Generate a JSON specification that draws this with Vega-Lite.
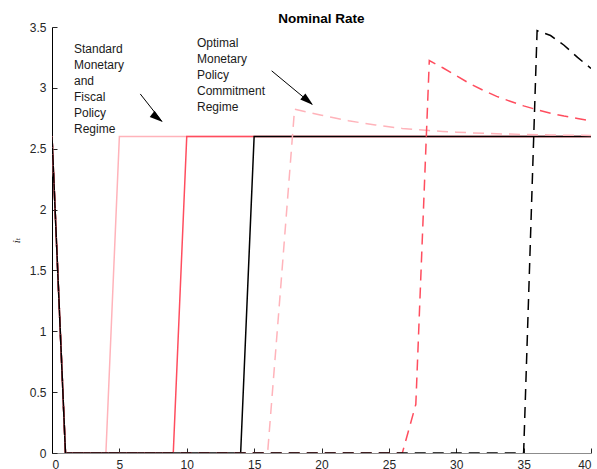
{
  "$schema": "https://vega.github.io/schema/vega-lite/v6.json",
  "width": 539,
  "height": 426,
  "autosize": {"type": "none"},
  "padding": {"left": 52, "top": 27, "right": 6, "bottom": 16},
  "background": "white",
  "title": {"text": "Nominal Rate", "font": "Liberation Sans", "fontSize": 13.5, "fontWeight": "bold", "color": "#000000", "anchor": "middle", "offset": -4},
  "config": {
    "view": {"stroke": null},
    "axis": {
      "labelFont": "Liberation Sans",
      "labelFontSize": 12,
      "labelColor": "#262626",
      "grid": false,
      "tickColor": "#262626",
      "tickSize": -5,
      "tickWidth": 1,
      "domainWidth": 1,
      "labelPadding": 11
    }
  },
  "datasets": {
    "series": [
      {"t": 0, "v": 2.6, "s": "S5"}, {"t": 1, "v": 0, "s": "S5"}, {"t": 2, "v": 0, "s": "S5"}, {"t": 3, "v": 0, "s": "S5"}, {"t": 4, "v": 0, "s": "S5"}, {"t": 5, "v": 2.6, "s": "S5"}, {"t": 40, "v": 2.6, "s": "S5"},
      {"t": 0, "v": 2.6, "s": "S10"}, {"t": 1, "v": 0, "s": "S10"}, {"t": 9, "v": 0, "s": "S10"}, {"t": 10, "v": 2.6, "s": "S10"}, {"t": 40, "v": 2.6, "s": "S10"},
      {"t": 0, "v": 2.6, "s": "S15"}, {"t": 1, "v": 0, "s": "S15"}, {"t": 14, "v": 0, "s": "S15"}, {"t": 15, "v": 2.6, "s": "S15"}, {"t": 40, "v": 2.6, "s": "S15"},
      {"t": 0, "v": 2.6, "s": "O16"}, {"t": 1, "v": 0, "s": "O16"}, {"t": 16, "v": 0, "s": "O16"}, {"t": 17, "v": 1.4, "s": "O16"}, {"t": 18, "v": 2.824, "s": "O16"}, {"t": 19, "v": 2.8, "s": "O16"}, {"t": 20, "v": 2.775, "s": "O16"}, {"t": 21, "v": 2.752, "s": "O16"}, {"t": 22, "v": 2.73, "s": "O16"}, {"t": 23, "v": 2.712, "s": "O16"}, {"t": 24, "v": 2.695, "s": "O16"}, {"t": 25, "v": 2.68, "s": "O16"}, {"t": 26, "v": 2.667, "s": "O16"}, {"t": 27, "v": 2.657, "s": "O16"}, {"t": 28, "v": 2.649, "s": "O16"}, {"t": 29, "v": 2.642, "s": "O16"}, {"t": 30, "v": 2.636, "s": "O16"}, {"t": 31, "v": 2.631, "s": "O16"}, {"t": 32, "v": 2.627, "s": "O16"}, {"t": 33, "v": 2.623, "s": "O16"}, {"t": 34, "v": 2.62, "s": "O16"}, {"t": 35, "v": 2.617, "s": "O16"}, {"t": 36, "v": 2.615, "s": "O16"}, {"t": 37, "v": 2.613, "s": "O16"}, {"t": 38, "v": 2.611, "s": "O16"}, {"t": 39, "v": 2.61, "s": "O16"}, {"t": 40, "v": 2.609, "s": "O16"},
      {"t": 0, "v": 2.6, "s": "O26"}, {"t": 1, "v": 0, "s": "O26"}, {"t": 26, "v": 0, "s": "O26"}, {"t": 27, "v": 0.4, "s": "O26"}, {"t": 28, "v": 3.224, "s": "O26"}, {"t": 29, "v": 3.165, "s": "O26"}, {"t": 30, "v": 3.1, "s": "O26"}, {"t": 31, "v": 3.035, "s": "O26"}, {"t": 32, "v": 2.98, "s": "O26"}, {"t": 33, "v": 2.93, "s": "O26"}, {"t": 34, "v": 2.89, "s": "O26"}, {"t": 35, "v": 2.852, "s": "O26"}, {"t": 36, "v": 2.82, "s": "O26"}, {"t": 37, "v": 2.792, "s": "O26"}, {"t": 38, "v": 2.768, "s": "O26"}, {"t": 39, "v": 2.748, "s": "O26"}, {"t": 40, "v": 2.73, "s": "O26"},
      {"t": 0, "v": 2.6, "s": "O35"}, {"t": 1, "v": 0, "s": "O35"}, {"t": 35, "v": 0, "s": "O35"}, {"t": 36, "v": 3.47, "s": "O35"}, {"t": 37, "v": 3.43, "s": "O35"}, {"t": 38, "v": 3.35, "s": "O35"}, {"t": 39, "v": 3.25, "s": "O35"}, {"t": 40, "v": 3.16, "s": "O35"}
    ],
    "notes": [
      {"x": 1.63, "y": 3.284, "label": "Standard\nMonetary\nand\nFiscal\nPolicy\nRegime"},
      {"x": 10.76, "y": 3.338, "label": "Optimal\nMonetary\nPolicy\nCommitment\nRegime"}
    ],
    "shafts": [
      {"x": 6.55, "y": 2.95, "x2": 8.15, "y2": 2.725},
      {"x": 16.3, "y": 3.14, "x2": 19.3, "y2": 2.865}
    ]
  },
  "layer": [
    {
      "data": {"name": "series"},
      "mark": {"type": "line", "strokeWidth": 1.5, "clip": true},
      "encoding": {
        "x": {"field": "t", "type": "quantitative", "scale": {"domain": [0, 40], "nice": false}, "axis": {"title": null, "values": [0, 5, 10, 15, 20, 25, 30, 35, 40], "domainColor": "#8c8c8c", "labelPadding": 11}},
        "y": {"field": "v", "type": "quantitative", "scale": {"domain": [0, 3.5], "nice": false}, "axis": {"title": "iₜ", "titleFont": "DejaVu Serif", "titleFontStyle": "italic", "titleFontWeight": "normal", "titleFontSize": 10, "titleColor": "#262626", "titlePadding": 8, "values": [0, 0.5, 1, 1.5, 2, 2.5, 3, 3.5], "format": "~g", "domainColor": "#000000", "labelPadding": 11}},
        "color": {"field": "s", "type": "nominal", "scale": {"domain": ["S5", "S10", "S15", "O16", "O26", "O35"], "range": ["#FFB3BA", "#FF4D5E", "#000000", "#FFB3BA", "#FF4D5E", "#000000"]}, "legend": null},
        "strokeDash": {"field": "s", "type": "nominal", "scale": {"domain": ["S5", "S10", "S15", "O16", "O26", "O35"], "range": [[1, 0], [1, 0], [1, 0], [11, 7], [11, 7], [11, 7]]}, "legend": null}
      }
    },
    {
      "data": {"name": "notes"},
      "mark": {"type": "text", "align": "left", "baseline": "alphabetic", "lineBreak": "\n", "lineHeight": 16, "font": "Liberation Sans", "fontSize": 12, "color": "#1a1a1a"},
      "encoding": {
        "x": {"field": "x", "type": "quantitative"},
        "y": {"field": "y", "type": "quantitative"},
        "text": {"field": "label", "type": "nominal"}
      }
    },
    {
      "data": {"name": "shafts"},
      "mark": {"type": "rule", "color": "#000000", "strokeWidth": 1},
      "encoding": {
        "x": {"field": "x", "type": "quantitative"},
        "y": {"field": "y", "type": "quantitative"},
        "x2": {"field": "x2"},
        "y2": {"field": "y2"}
      }
    },
    {
      "data": {"values": [{"x": 8.21, "y": 2.72}]},
      "mark": {"type": "point", "shape": "M0,0L-0.3,1L0.3,1Z", "filled": true, "color": "#000000", "opacity": 1, "size": 700, "angle": 127.6},
      "encoding": {
        "x": {"field": "x", "type": "quantitative"},
        "y": {"field": "y", "type": "quantitative"}
      }
    },
    {
      "data": {"values": [{"x": 19.37, "y": 2.86}]},
      "mark": {"type": "point", "shape": "M0,0L-0.3,1L0.3,1Z", "filled": true, "color": "#000000", "opacity": 1, "size": 700, "angle": 129.7},
      "encoding": {
        "x": {"field": "x", "type": "quantitative"},
        "y": {"field": "y", "type": "quantitative"}
      }
    }
  ]
}
